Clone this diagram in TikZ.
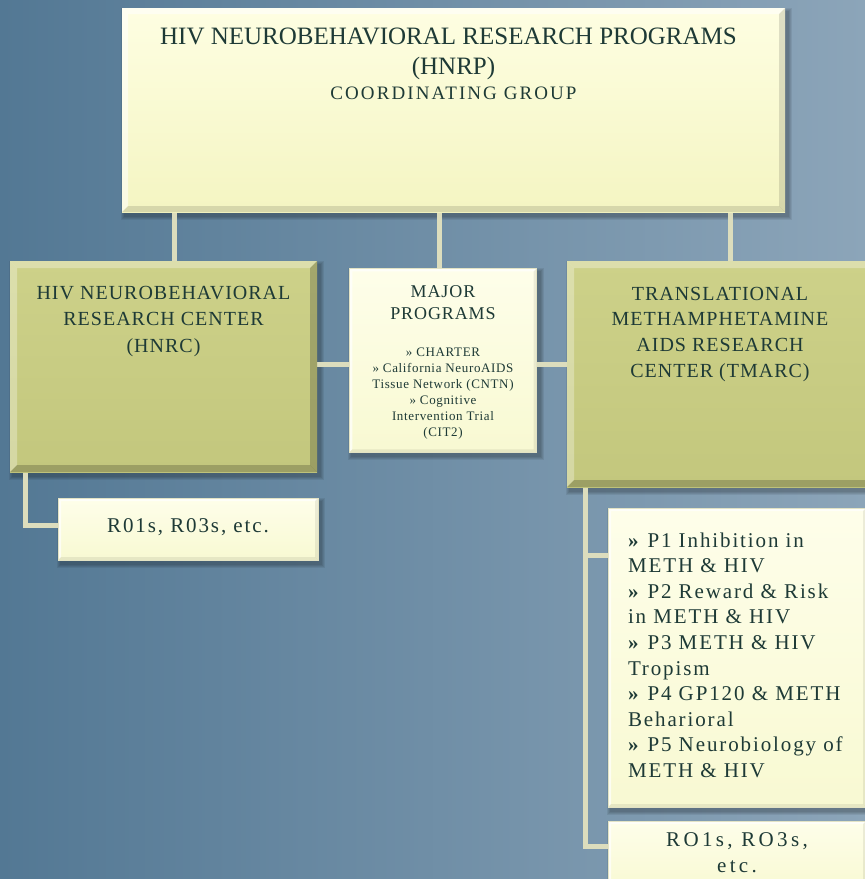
\documentclass[tikz,border=0pt]{standalone}
\usepackage{fontspec}
\setmainfont{Liberation Serif}
\newfontfamily\trk{Liberation Serif}[LetterSpace=5]
\newfontfamily\trkp{Liberation Serif}[LetterSpace=9]
\newfontfamily\trkc{Liberation Serif}[LetterSpace=11]
\newfontfamily\trkr{Liberation Serif}[LetterSpace=9]
\newfontfamily\trkw{Liberation Serif}[LetterSpace=16]
\usetikzlibrary{calc}
\definecolor{bgL}{HTML}{537894}
\definecolor{bgR}{HTML}{8CA5B9}
\definecolor{txt}{HTML}{1E3A36}
\definecolor{connc}{HTML}{DCDDBD}
\definecolor{oliveT}{HTML}{CDD189}
\definecolor{oliveB}{HTML}{C3C77D}
\definecolor{ylT}{HTML}{FEFEE2}
\definecolor{ylB}{HTML}{F4F5C2}
\definecolor{ltT}{HTML}{FEFEEA}
\definecolor{ltB}{HTML}{F8F9D2}
\definecolor{ltEdge}{HTML}{E3E3C4}
\pgfdeclarelayer{back}
\pgfdeclarelayer{shad}
\pgfdeclarelayer{bg}
\pgfsetlayers{back,shad,bg,main}
\newcommand\shadowof[1]{%
  \foreach \s in {1,2,3,4}{%
    \fill[black,opacity=.07] ([xshift={3pt-\s*1pt},yshift={-4pt+\s*1pt}]#1.north west)
      rectangle ([xshift={3pt+\s*1pt},yshift={-4pt-\s*1pt}]#1.south east);}}
\tikzset{
  bevel/.style n args={3}{path picture={
    \path (path picture bounding box.north west) coordinate (bvnw)
          (path picture bounding box.north east) coordinate (bvne)
          (path picture bounding box.south west) coordinate (bvsw)
          (path picture bounding box.south east) coordinate (bvse);
    \fill[#2] (bvnw) -- (bvne) -- ([xshift=-#1,yshift=-#1]bvne) -- ([xshift=#1,yshift=-#1]bvnw) -- cycle;
    \fill[#2] (bvnw) -- ([xshift=#1,yshift=-#1]bvnw) -- ([xshift=#1,yshift=#1]bvsw) -- (bvsw) -- cycle;
    \fill[#3] (bvsw) -- ([xshift=#1,yshift=#1]bvsw) -- ([xshift=-#1,yshift=#1]bvse) -- (bvse) -- cycle;
    \fill[#3] (bvne) -- (bvse) -- ([xshift=-#1,yshift=#1]bvse) -- ([xshift=-#1,yshift=-#1]bvne) -- cycle;
  }},
  box/.style={inner sep=0pt, outer sep=0pt, anchor=north west, text=txt},
  olivebox/.style={box, top color=oliveT, bottom color=oliveB,
    bevel={7pt}{white,opacity=.3}{black,opacity=.2}},
  topbox/.style={box, top color=ylT, bottom color=ylB,
    bevel={6pt}{white,opacity=.55}{black,opacity=.12}},
  lightbox/.style={box, top color=ltT, bottom color=ltB, draw=ltEdge, line width=.8pt,
    bevel={3pt}{white,opacity=.7}{black,opacity=.07}},
  conn/.style={draw=connc, line width=5pt, line cap=butt, line join=miter},
}
\begin{document}
\begin{tikzpicture}[x=1pt,y=-1pt]
\useasboundingbox (0,0) rectangle (865,879);
\begin{pgfonlayer}{back}
\fill[left color=bgL, right color=bgR] (0,0) rectangle (865,879);
\end{pgfonlayer}

% top
\node[topbox] (top) at (122,8)
  {\parbox[c][204pt][t]{663pt}{\centering
   \fontsize{25}{30}\selectfont\rule{0pt}{36pt}\hspace*{-10pt}HIV NEUROBEHAVIORAL RESEARCH PROGRAMS\\(HNRP)\par
   \trkc\fontsize{19}{25}\selectfont COORDINATING GROUP\par}};

% HNRC
\node[olivebox] (hnrc) at (10,261)
  {\parbox[c][211pt][t]{307pt}{\centering
   \trk\fontsize{20}{26.7}\selectfont\rule{0pt}{38pt}HIV NEUROBEHAVIORAL\\RESEARCH CENTER\\(HNRC)\par}};

% major programs
\node[lightbox] (major) at (349.3,268.3)
  {\parbox[c][184pt][t]{187.4pt}{\centering
   \trk\fontsize{18}{22}\selectfont\rule{0pt}{28.7pt}MAJOR\\PROGRAMS\par
   \vspace{21pt}
   \fontsize{13}{16}\selectfont »~CHARTER\\»~California NeuroAIDS\\Tissue Network (CNTN)\\»~Cognitive\\Intervention Trial\\(CIT2)\par}};

% TMARC
\node[olivebox] (tmarc) at (567,261)
  {\parbox[c][226pt][t]{306pt}{\centering
   \trk\fontsize{20}{25.7}\selectfont\rule{0pt}{39pt}TRANSLATIONAL\\METHAMPHETAMINE\\AIDS RESEARCH\\CENTER (TMARC)\par}};

% R01s
\node[lightbox] (r01) at (58,498)
  {\parbox[c][62pt][t]{260pt}{\centering
   \trkr\fontsize{21}{26}\selectfont\rule{0pt}{34.3pt}R01s, R03s, etc.\par}};

% projects
\node[lightbox] (pbox) at (608,508)
  {\parbox[c][299pt][t]{258pt}{\raggedright\leftskip=20pt\parindent=0pt
   \trkp\fontsize{21}{25.6}\selectfont\rule{0pt}{39pt}\textbf{»} P1 Inhibition in\\METH \& HIV\\\textbf{»} P2 Reward \& Risk\\in METH \& HIV\\\textbf{»} P3 METH \& HIV\\Tropism\\\textbf{»} P4 GP120 \& METH\\Beharioral\\\textbf{»} P5 Neurobiology of\\METH \& HIV\par}};

% RO1s
\node[lightbox] (ro1) at (608,821)
  {\parbox[c][70pt][t]{258pt}{\centering
   \trkw\fontsize{21}{26}\selectfont\rule{0pt}{25pt}RO1s, RO3s,\\etc.\par}};

% shadows
\begin{pgfonlayer}{shad}
\shadowof{top}\shadowof{hnrc}\shadowof{major}\shadowof{tmarc}
\shadowof{r01}\shadowof{pbox}\shadowof{ro1}
\end{pgfonlayer}

% connectors
\begin{pgfonlayer}{bg}
\coordinate (hU) at ([xshift=11pt]hnrc.north);
\coordinate (mU) at ([xshift=-4pt]major.north);
\coordinate (tU) at ([xshift=10pt]tmarc.north);
\draw[conn] (hU) -- (hU |- top.south);
\draw[conn] (mU) -- (mU |- top.south);
\draw[conn] (tU) -- (tU |- top.south);
\coordinate (hL) at ([yshift=-103.5pt]hnrc.north east);
\draw[conn] (hL) -- (hL -| tmarc.west);
\coordinate (hD) at ([xshift=15pt]hnrc.south west);
\coordinate (rIn) at ([yshift=-27pt]r01.north west);
\draw[conn] (hD) |- (rIn);
\coordinate (tD) at ([xshift=18pt]tmarc.south west);
\coordinate (pIn) at ([yshift=-47.5pt]pbox.north west);
\coordinate (oIn) at ([yshift=-25.5pt]ro1.north west);
\draw[conn] (tD) |- (pIn);
\draw[conn] (tD) |- (oIn);
\end{pgfonlayer}
\end{tikzpicture}
\end{document}
